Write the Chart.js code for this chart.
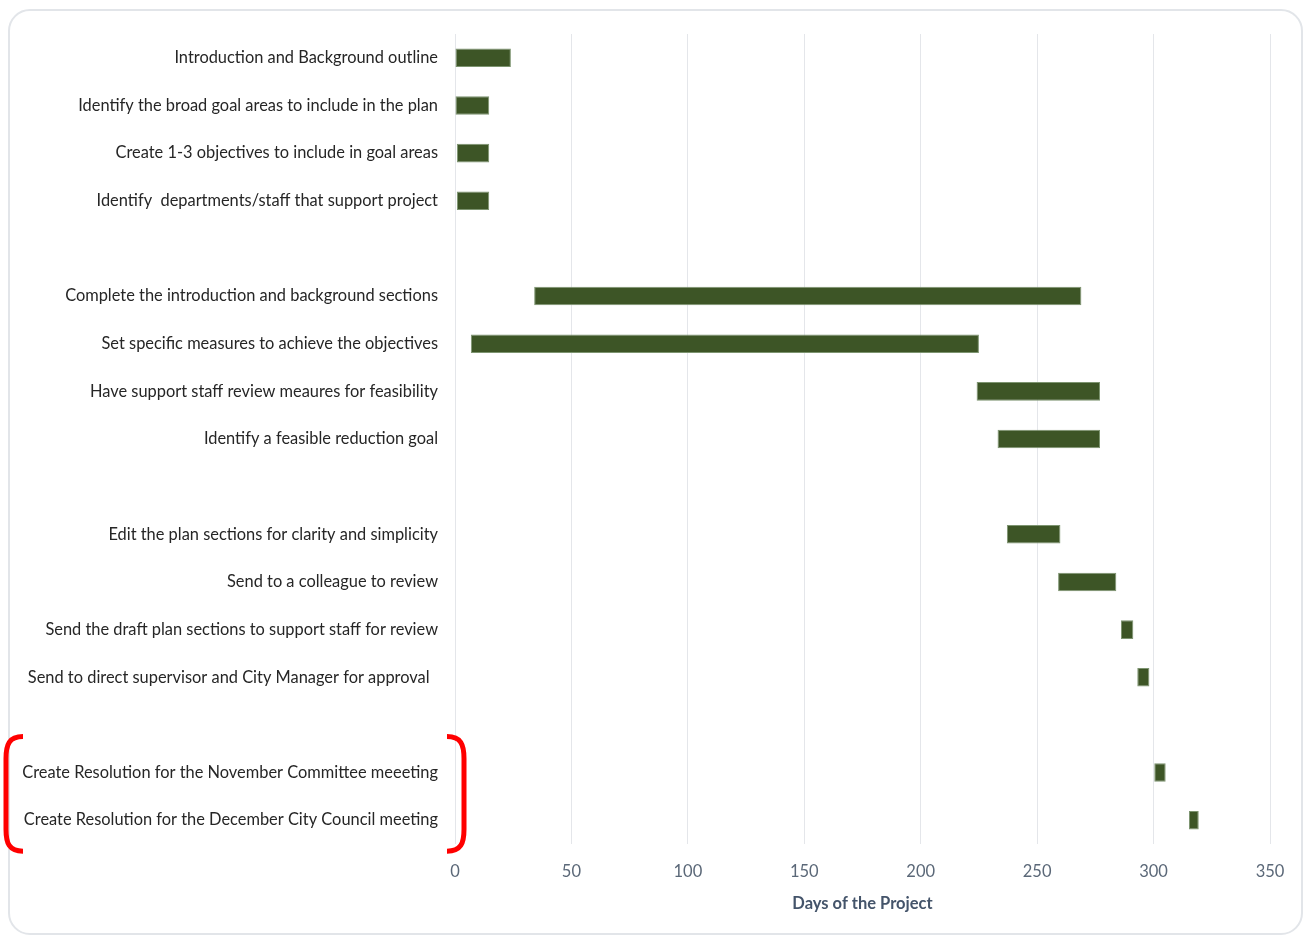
<!DOCTYPE html>
<html>
<head>
<meta charset="utf-8">
<script src="https://cdn.jsdelivr.net/npm/chart.js@4"></script>
<style>
  html, body { margin: 0; padding: 0; background: #fff; }
  #wrap { position: relative; width: 1304px; height: 938px; }
  #card { position: absolute; left: 8px; top: 9px; width: 1295px; height: 926px;
          border: 2px solid #e2e5e9; border-radius: 22px; box-sizing: border-box; }
  canvas { position: absolute; left: 0; top: 0; }
</style>
</head>
<body>
<div id="wrap">
  <div id="card"></div>
  <canvas id="ganttChart" width="1304" height="938"></canvas>
</div>
<script>
// タスク名（空文字はグループ間の空行）
const tasks = [
  'Introduction and Background outline',
  'Identify the broad goal areas to include in the plan',
  'Create 1-3 objectives to include in goal areas',
  'Identify  departments/staff that support project',
  '',
  'Complete the introduction and background sections',
  'Set specific measures to achieve the objectives',
  'Have support staff review meaures for feasibility',
  'Identify a feasible reduction goal',
  '',
  'Edit the plan sections for clarity and simplicity',
  'Send to a colleague to review',
  'Send the draft plan sections to support staff for review',
  'Send to direct supervisor and City Manager for approval  ',
  '',
  'Create Resolution for the November Committee meeeting',
  'Create Resolution for the December City Council meeting'
];
// 開始日・終了日（プロジェクト開始からの日数）
const startDays = [0, 0, 0.8, 0.8, null, 34, 6.8, 224, 233, null, 237, 259, 286, 293, null, 300.3, 315.2];
const endDays   = [24, 14.7, 14.7, 14.7, null, 269, 225, 277, 277, null, 260, 284, 291.3, 298.2, null, 305.2, 319.4];
const xTicks = [0, 50, 100, 150, 200, 250, 300, 350];

const ranges = startDays.map((s, i) => (s === null ? null : [s, endDays[i]]));

// 最後の2タスクを囲む赤い括弧
const bracketPlugin = {
  id: 'bracket',
  afterDraw(chart) {
    const { ctx, scales: { y }, chartArea } = chart;
    const top = y.getPixelForValue(tasks.length - 2) - 36;
    const bot = y.getPixelForValue(tasks.length - 1) + 31;
    ctx.save();
    ctx.strokeStyle = '#ff0000';
    ctx.lineWidth = 5;
    ctx.lineCap = 'butt';
    const drawOne = (xEdge, dir) => {
      const xEnd = xEdge + dir * 17;
      ctx.beginPath();
      ctx.moveTo(xEnd, top);
      ctx.bezierCurveTo(xEdge + dir * 3, top, xEdge, top + 8, xEdge, top + 22);
      ctx.lineTo(xEdge, bot - 22);
      ctx.bezierCurveTo(xEdge, bot - 8, xEdge + dir * 3, bot, xEnd, bot);
      ctx.stroke();
    };
    drawOne(6, 1);
    drawOne(chartArea.left + 9, -1);
    ctx.restore();
  }
};

const ctx = document.getElementById('ganttChart').getContext('2d');
new Chart(ctx, {
  type: 'bar',
  data: {
    labels: tasks,
    datasets: [{
      label: 'Days',
      data: ranges,
      backgroundColor: '#3d5526',
      borderColor: '#7d9470',
      borderWidth: 1,
      borderSkipped: false,
      categoryPercentage: 1,
      barPercentage: 0.39
    }]
  },
  options: {
    indexAxis: 'y',
    responsive: false,
    animation: false,
    layout: { padding: { top: 34, right: 34, bottom: 0, left: 0 } },
    plugins: {
      legend: { display: false },
      tooltip: { enabled: false }
    },
    scales: {
      x: {
        min: 0,
        max: 350,
        afterBuildTicks: axis => { axis.ticks = xTicks.map(v => ({ value: v })); },
        afterFit: axis => { axis.height = 94; },
        grid: { color: '#e4e6ea', lineWidth: 1, drawTicks: false },
        border: { display: false },
        ticks: {
          padding: 18,
          color: '#5b6878',
          font: { family: 'Lato', size: 16.5 }
        },
        title: {
          display: true,
          text: 'Days of the Project',
          color: '#44546a',
          font: { family: 'Lato', size: 16.5, weight: 'bold' },
          padding: { top: 6, bottom: 24 }
        }
      },
      y: {
        afterFit: axis => { axis.width = 455; },
        grid: { display: false, drawTicks: false },
        border: { display: false },
        ticks: {
          padding: 17,
          autoSkip: false,
          color: '#262626',
          font: { family: 'Lato', size: 16.4 }
        }
      }
    }
  },
  plugins: [bracketPlugin]
});
</script>
</body>
</html>
